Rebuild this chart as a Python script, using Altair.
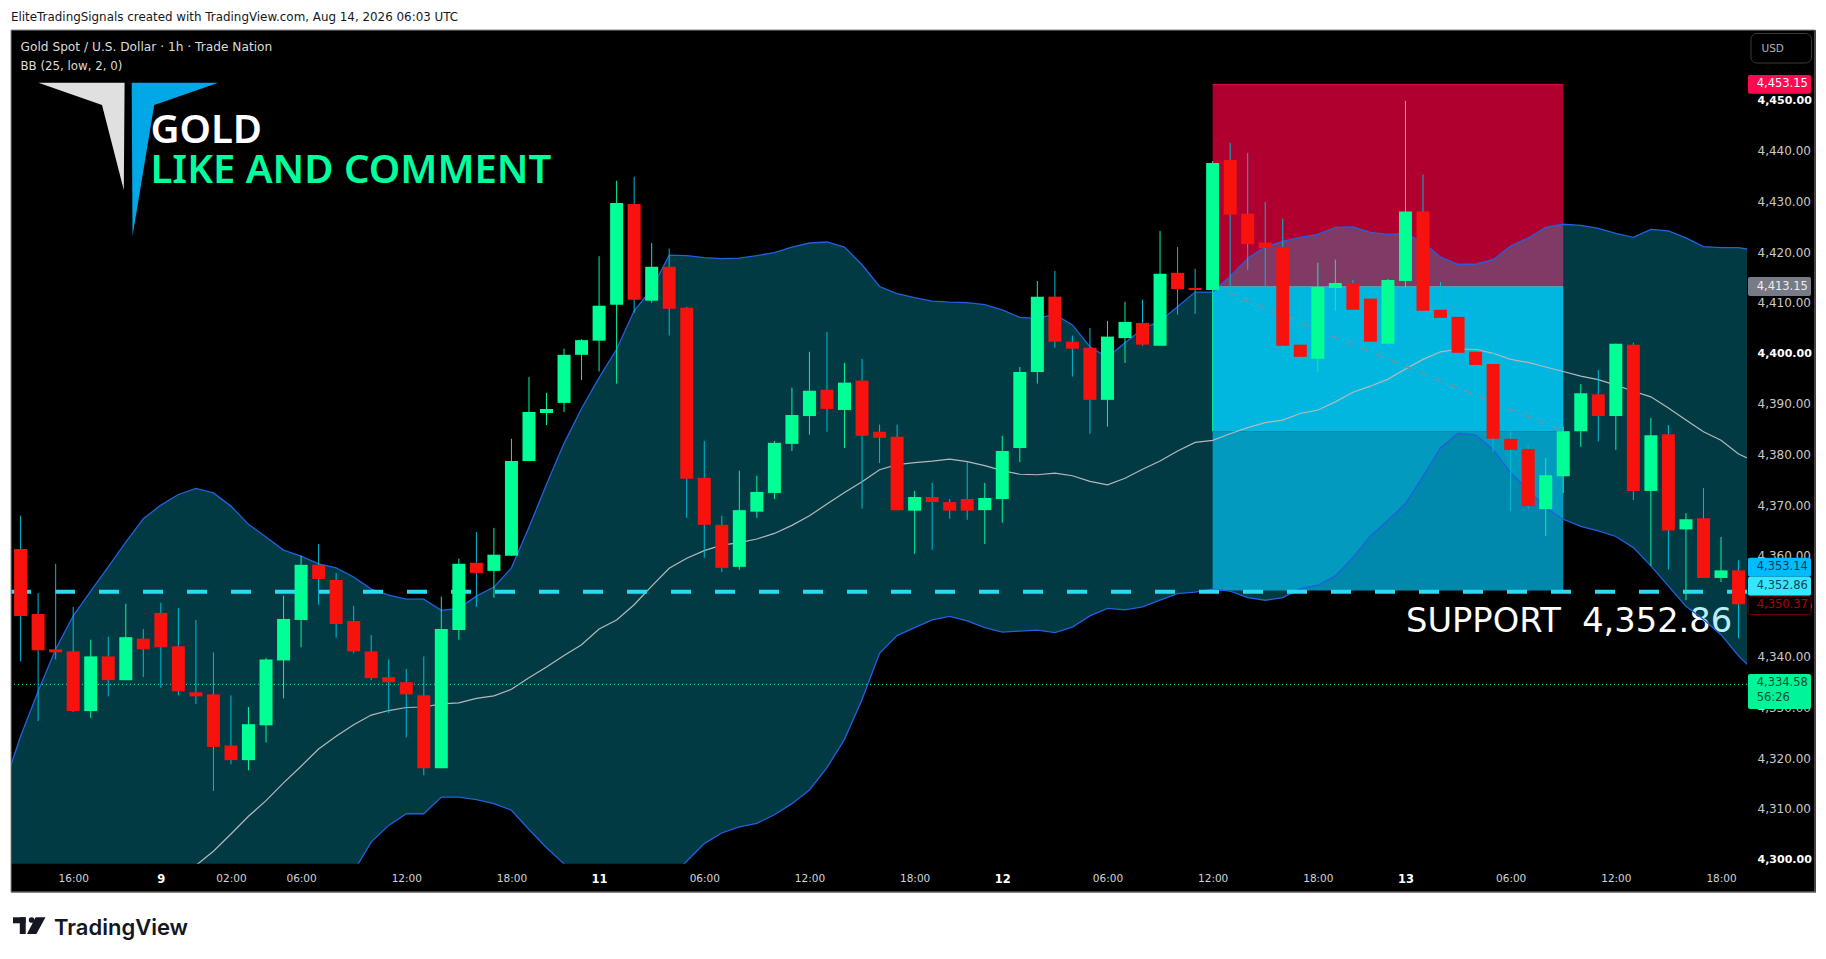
import pandas as pd
import altair as alt

# 1h candles
opens = [4361.3, 4348.5, 4341.5, 4341.1, 4329.3, 4340.1, 4335.4, 4343.6, 4348.7, 4342.1,
         4333.0, 4332.6, 4322.5, 4319.6, 4326.5, 4339.3, 4347.3, 4358.2, 4355.2, 4347.1,
         4341.1, 4336.0, 4335.0, 4332.4, 4318.0, 4345.3, 4358.6, 4357.0, 4360.0, 4378.7,
         4388.2, 4390.2, 4399.7, 4402.5, 4409.6, 4429.5, 4410.4, 4417.1, 4409.0, 4375.4,
         4366.1, 4357.8, 4368.7, 4372.4, 4382.1, 4387.6, 4392.8, 4388.8, 4394.6, 4384.5,
         4383.5, 4368.9, 4371.6, 4370.6, 4371.2, 4369.0, 4371.2, 4381.3, 4396.3, 4411.2,
         4402.3, 4401.1, 4390.8, 4403.0, 4406.0, 4401.5, 4415.9, 4412.9, 4412.5, 4438.2,
         4427.6, 4421.9, 4421.0, 4401.7, 4398.9, 4412.9, 4413.9, 4410.8, 4401.9, 4414.3,
         4428.0, 4408.6, 4407.2, 4400.3, 4397.9, 4383.1, 4381.1, 4369.2, 4375.7, 4384.6,
         4391.9, 4387.6, 4401.7, 4372.8, 4384.0, 4365.2, 4367.4, 4355.6, 4357.1]
closes = [4348.1, 4341.3, 4340.9, 4329.3, 4340.1, 4335.4, 4343.9, 4341.5, 4341.9, 4333.2,
          4332.2, 4322.2, 4319.6, 4326.7, 4339.5, 4347.5, 4358.2, 4355.4, 4346.5, 4341.1,
          4335.8, 4335.0, 4332.6, 4318.0, 4345.5, 4358.4, 4356.6, 4360.2, 4378.7, 4388.4,
          4389.0, 4399.7, 4402.6, 4409.4, 4429.7, 4410.6, 4417.1, 4408.8, 4375.2, 4366.1,
          4357.6, 4369.0, 4372.6, 4382.3, 4387.8, 4392.6, 4389.0, 4394.2, 4383.7, 4383.3,
          4369.0, 4371.6, 4370.6, 4368.9, 4368.9, 4371.4, 4380.7, 4396.3, 4411.2, 4402.3,
          4400.9, 4390.8, 4403.3, 4406.2, 4401.7, 4415.7, 4412.7, 4412.5, 4437.6, 4427.4,
          4421.6, 4420.8, 4401.5, 4399.3, 4413.1, 4413.9, 4408.6, 4402.3, 4414.5, 4428.0,
          4408.4, 4407.0, 4400.1, 4397.7, 4383.1, 4380.9, 4369.8, 4375.9, 4384.6, 4392.1,
          4387.6, 4401.9, 4372.8, 4383.8, 4365.0, 4367.2, 4355.6, 4357.1, 4350.4]
highs = [4367.9, 4352.6, 4358.4, 4349.9, 4343.4, 4344.0, 4350.5, 4345.5, 4350.7, 4349.7,
         4347.3, 4340.9, 4332.4, 4330.1, 4339.8, 4352.1, 4360.0, 4362.3, 4356.6, 4350.1,
         4344.3, 4339.5, 4337.6, 4340.1, 4351.9, 4359.4, 4364.7, 4365.5, 4383.1, 4395.3,
         4392.2, 4400.9, 4402.8, 4419.2, 4434.1, 4434.9, 4421.8, 4420.7, 4409.2, 4382.7,
         4367.9, 4376.8, 4375.8, 4382.7, 4393.2, 4400.3, 4404.2, 4398.1, 4398.9, 4385.9,
         4385.9, 4372.8, 4374.4, 4371.2, 4378.5, 4374.4, 4383.7, 4397.3, 4414.3, 4416.3,
         4403.5, 4405.0, 4406.4, 4410.2, 4410.6, 4424.2, 4421.0, 4416.7, 4438.0, 4441.6,
         4439.6, 4429.9, 4426.6, 4411.7, 4417.9, 4418.5, 4414.5, 4410.8, 4414.7, 4449.9,
         4435.3, 4414.1, 4411.7, 4400.3, 4407.0, 4384.6, 4381.9, 4379.3, 4385.5, 4393.9,
         4396.7, 4401.9, 4402.1, 4387.2, 4385.8, 4368.4, 4373.4, 4363.7, 4359.1]
lows = [4339.1, 4327.3, 4339.5, 4329.1, 4327.9, 4332.2, 4335.4, 4336.0, 4333.9, 4332.4,
        4330.7, 4313.5, 4318.8, 4317.6, 4323.1, 4331.8, 4341.9, 4350.3, 4343.8, 4340.7,
        4335.4, 4328.9, 4324.1, 4316.6, 4318.0, 4343.4, 4349.9, 4351.7, 4360.0, 4378.7,
        4385.8, 4388.4, 4394.7, 4396.4, 4394.0, 4408.0, 4410.0, 4403.5, 4367.5, 4359.6,
        4356.8, 4357.2, 4367.5, 4371.2, 4380.7, 4383.9, 4384.5, 4381.3, 4369.3, 4378.3,
        4369.0, 4360.4, 4361.2, 4367.3, 4367.1, 4362.3, 4366.5, 4378.5, 4394.0, 4401.1,
        4395.4, 4384.1, 4385.5, 4398.1, 4401.5, 4401.5, 4407.6, 4407.8, 4384.6, 4409.0,
        4416.5, 4413.0, 4396.9, 4397.0, 4396.3, 4408.4, 4408.4, 4402.3, 4401.7, 4413.0,
        4408.4, 4407.0, 4400.1, 4397.7, 4380.5, 4368.8, 4369.2, 4363.9, 4372.4, 4381.5,
        4382.6, 4380.9, 4371.0, 4358.0, 4357.3, 4351.2, 4355.6, 4354.8, 4343.7]

# Bollinger bands, bar -1 to bar 99 so they run off both edges of the plot
bb_upper = [4314.0,
            4324.3, 4333.2, 4341.5, 4348.1, 4353.0, 4357.8, 4362.7, 4367.3, 4370.0, 4372.1,
            4373.3, 4372.4, 4369.8, 4366.2, 4363.7, 4361.1, 4359.9, 4358.4, 4357.6, 4355.8,
            4353.4, 4352.2, 4351.4, 4351.4, 4349.2, 4349.6, 4352.0, 4353.8, 4357.6, 4365.6,
            4374.1, 4382.2, 4389.1, 4395.2, 4400.8, 4408.4, 4412.7, 4419.4, 4419.3, 4418.9,
            4418.7, 4418.8, 4419.3, 4419.9, 4421.0, 4421.8, 4422.0, 4421.0, 4417.5, 4413.2,
            4411.8, 4411.0, 4410.3, 4410.1, 4410.0, 4409.6, 4408.6, 4407.1, 4406.9, 4407.7,
            4405.6, 4401.3, 4399.2, 4402.1, 4404.8, 4406.4, 4409.2, 4412.1, 4412.1, 4415.2,
            4418.8, 4421.0, 4422.1, 4422.9, 4423.5, 4424.9, 4425.0, 4423.9, 4423.5, 4423.7,
            4421.9, 4419.0, 4417.6, 4417.6, 4418.5, 4421.2, 4422.8, 4424.9, 4425.5, 4425.3,
            4424.7, 4423.7, 4422.9, 4424.5, 4424.2, 4422.8, 4421.1, 4420.9, 4420.9, 4420.3]
# the first bars are under the bottom of the plot, those are only rough
bb_lower = [4290.0,
            4290.0, 4290.0, 4290.0, 4290.0, 4290.0, 4290.0, 4290.0, 4290.0, 4290.0, 4290.0,
            4290.0, 4290.0, 4290.0, 4290.0, 4290.0, 4290.0, 4290.0, 4290.0, 4294.0, 4297.6,
            4303.4, 4306.7, 4309.0, 4309.0, 4312.3, 4312.3, 4311.8, 4311.0, 4309.7, 4305.9,
            4302.3, 4299.1, 4295.6, 4293.0, 4291.0, 4291.0, 4293.0, 4296.3, 4299.6, 4303.1,
            4305.2, 4306.4, 4307.1, 4308.8, 4311.0, 4313.7, 4318.1, 4323.7, 4331.6, 4340.7,
            4344.2, 4345.8, 4347.3, 4348.0, 4347.1, 4345.8, 4344.9, 4345.1, 4345.3, 4344.8,
            4345.9, 4348.1, 4349.6, 4349.3, 4349.9, 4351.2, 4352.5, 4352.8, 4353.4, 4353.0,
            4351.7, 4351.2, 4351.7, 4353.5, 4354.2, 4356.0, 4359.6, 4363.9, 4367.0, 4370.3,
            4375.7, 4381.3, 4384.2, 4383.9, 4381.0, 4376.4, 4373.1, 4369.5, 4367.2, 4365.8,
            4364.9, 4363.8, 4361.6, 4358.0, 4354.0, 4350.0, 4347.4, 4344.4, 4340.2, 4336.8]
bb_mid = [None,
          None, None, None, None, None, None, None, None, None, None,
          4298.8, 4301.6, 4305.0, 4308.5, 4311.6, 4315.1, 4318.4, 4321.8, 4324.3, 4326.6,
          4328.5, 4329.4, 4330.0, 4330.1, 4330.7, 4330.9, 4331.8, 4332.3, 4333.6, 4335.9,
          4338.0, 4340.3, 4342.4, 4345.5, 4347.3, 4350.3, 4354.0, 4357.5, 4359.5, 4361.0,
          4362.1, 4362.6, 4363.3, 4364.4, 4366.0, 4367.9, 4370.2, 4372.5, 4374.6, 4377.0,
          4378.0, 4378.4, 4378.7, 4379.1, 4378.6, 4377.8, 4376.8, 4376.1, 4376.0, 4376.3,
          4375.8, 4374.7, 4374.0, 4375.3, 4377.1, 4378.7, 4380.7, 4382.4, 4382.8, 4384.1,
          4385.3, 4386.3, 4386.8, 4388.1, 4388.8, 4390.4, 4392.3, 4393.5, 4394.9, 4396.9,
          4398.8, 4400.3, 4400.8, 4400.8, 4400.0, 4398.8, 4398.2, 4397.3, 4396.4, 4395.5,
          4394.8, 4393.7, 4392.5, 4391.4, 4389.2, 4386.8, 4384.5, 4382.8, 4380.1, 4378.5]

# x axis
tick_bars = [3, 8, 12, 16, 22, 28, 33, 39, 45, 51, 56, 62, 68, 74, 79, 85, 91, 97]
tick_labels = ["16:00", "9", "02:00", "06:00", "12:00", "18:00", "11", "06:00", "12:00",
               "18:00", "12", "06:00", "12:00", "18:00", "13", "06:00", "12:00", "18:00"]
day_bars = [8, 33, 56, 79]
price_ticks = list(range(4300, 4460, 10))

# position tool + horizontal levels
box_from, box_to = 68, 88
stop_price, entry_price, box_split, target_price = 4453.15, 4413.15, 4384.6, 4353.14
support_price = 4352.86
last_price = 4334.58

# page pixels of the plot area
LEFT, RIGHT, TOP, BOTTOM = 11.5, 1747.0, 31.0, 862.7
FRAME_RIGHT, FRAME_BOTTOM = 1815.0, 892.0
SVG_BOTTOM = 951.0
W = RIGHT - LEFT
H = BOTTOM - TOP


def bar_of(px):
    return (px - 20.6) / 17.53


def price_of(py):
    return 4450 - (py - 99.3) / 5.06


x_enc = alt.X("i:Q", title=None,
              scale=alt.Scale(domain=[bar_of(LEFT), bar_of(RIGHT)], zero=False, nice=False, padding=0),
              axis=alt.Axis(values=tick_bars, grid=False, domain=False, ticks=False,
                            labelExpr="{" + ",".join(f"'{b}':'{t}'" for b, t in zip(tick_bars, tick_labels)) + "}[datum.value]",
                            labelColor={"condition": {"test": f"indexof({day_bars}, datum.value) >= 0", "value": "#ffffff"}, "value": "#d1d4dc"},
                            labelFontWeight={"condition": {"test": f"indexof({day_bars}, datum.value) >= 0", "value": "bold"}, "value": "normal"},
                            labelFontSize={"condition": {"test": f"indexof({day_bars}, datum.value) >= 0", "value": 11.5}, "value": 10.5},
                            labelFont="DejaVu Sans", labelPadding=10,
                            labelOverlap=False, labelFlush=False, labelBound=False))
y_scale = alt.Scale(domain=[price_of(BOTTOM), price_of(TOP)], zero=False, nice=False, padding=0)
y_axis = alt.Axis(orient="right", values=price_ticks, format=",.2f", grid=False, domain=False, ticks=False,
                  labelColor={"condition": {"test": "datum.value % 50 == 0", "value": "#ffffff"}, "value": "#c8c8c8"},
                  labelFontWeight={"condition": {"test": "datum.value % 50 == 0", "value": "bold"}, "value": "normal"},
                  labelFontSize={"condition": {"test": "datum.value % 50 == 0", "value": 11}, "value": 12},
                  labelFont="DejaVu Sans", labelPadding=10,
                  labelOverlap=False, labelFlush=False, labelBound=False)


def y_enc(field):
    return alt.Y(field, type="quantitative", title=None, scale=y_scale, axis=y_axis)


one_row = alt.Data(values=[{"a": 1}])


def px_rect(x0, y0, x1, y1, fill=None, stroke=None, radius=0):
    opts = {"cornerRadius": radius}
    if fill:
        opts["fill"] = fill
    else:
        opts["fillOpacity"] = 0
    if stroke:
        opts["stroke"] = stroke
        opts["strokeWidth"] = 1
    return alt.Chart(one_row).mark_rect(**opts).encode(
        x=alt.value(x0 - LEFT), x2=alt.value(x1 - LEFT),
        y=alt.value(y0 - TOP), y2=alt.value(y1 - TOP))


def px_text(x, y, txt, size, color, font="DejaVu Sans", weight="normal", align="left"):
    return alt.Chart(one_row).mark_text(align=align, baseline="middle", font=font, fontSize=size,
                                        fontWeight=weight, color=color).encode(
        x=alt.value(x - LEFT), y=alt.value(y - TOP), text=alt.value(txt))


def polygon(xs, tops, bottoms, color):
    d = pd.DataFrame({"i": [bar_of(v) for v in xs],
                      "top": [price_of(v) for v in tops],
                      "bot": [price_of(v) for v in bottoms]})
    return alt.Chart(d).mark_area(color=color, opacity=1, clip=False).encode(
        x=x_enc, y=y_enc("top"), y2=alt.Y2("bot"))


candles = pd.DataFrame({"i": range(len(opens)), "o": opens, "h": highs, "l": lows, "c": closes})
candles["top"] = candles[["o", "c"]].max(axis=1)
candles["bot"] = candles[["o", "c"]].min(axis=1)
bands = pd.DataFrame({"i": range(-1, 100), "upper": bb_upper, "lower": bb_lower, "mid": bb_mid})
boxes = pd.DataFrame({"i": [box_from] * 3, "i2": [box_to] * 3,
                      "top": [stop_price, entry_price, box_split],
                      "bot": [entry_price, box_split, target_price],
                      "kind": ["stop", "t1", "t2"]})
diag = pd.DataFrame({"i": [box_from, box_to], "p": [entry_price, box_split]})

box_layer = alt.Chart(boxes).mark_rect().encode(
    x=x_enc, x2=alt.X2("i2"), y=y_enc("top"), y2=alt.Y2("bot"),
    color=alt.Color("kind:N", legend=None,
                    scale=alt.Scale(domain=["stop", "t1", "t2"], range=["#b0002f", "#00afda", "#0088ad"])))
stop_edge = alt.Chart(boxes.head(1)).mark_rule(color="#e8084c", strokeWidth=1).encode(
    x=x_enc, x2=alt.X2("i2"), y=y_enc("top"))
entry_edge = alt.Chart(boxes.head(1)).mark_rule(color="#6f8b9c", strokeWidth=1.5).encode(
    x=x_enc, x2=alt.X2("i2"), y=y_enc("bot"))

band_fill = alt.Chart(bands).mark_area(color="rgb(7,203,238)", opacity=0.285, clip=True).encode(
    x=x_enc, y=y_enc("upper"), y2=alt.Y2("lower"))
upper_line = alt.Chart(bands).mark_line(color="#2160e0", strokeWidth=1.3, clip=True).encode(x=x_enc, y=y_enc("upper"))
lower_line = alt.Chart(bands).mark_line(color="#2160e0", strokeWidth=1.3, clip=True).encode(x=x_enc, y=y_enc("lower"))
mid_line = alt.Chart(bands).mark_line(color="#b4b8bc", strokeWidth=1.2, clip=True).encode(x=x_enc, y=y_enc("mid"))
diag_line = alt.Chart(diag).mark_line(color="#78909c", strokeWidth=1.5, strokeDash=[8, 8]).encode(x=x_enc, y=y_enc("p"))

support_line = alt.Chart(pd.DataFrame({"p": [support_price]})).mark_rule(
    color="#2adcf2", strokeWidth=4, strokeDash=[20, 24]).encode(y=y_enc("p"))
last_line = alt.Chart(pd.DataFrame({"p": [last_price]})).mark_rule(
    color="#2cf0b0", strokeWidth=1, strokeDash=[1, 3]).encode(y=y_enc("p"))

up = "datum.c >= datum.o"
wicks = alt.Chart(candles).mark_rule(strokeWidth=1).encode(
    x=x_enc, y=y_enc("l"), y2=alt.Y2("h"),
    color=alt.condition(up, alt.value("#00f59b"), alt.value("#00bcd4")))
bodies = alt.Chart(candles).mark_bar(size=13).encode(
    x=x_enc, y=y_enc("top"), y2=alt.Y2("bot"),
    color=alt.condition(up, alt.value("#00ff95"), alt.value("#f7120d")))

# text sits under the band fill in the original, that is why 86 looks pale
support_text = px_text(1406, 621, "SUPPORT\u00a0\u00a04,352.86", 33.7, "#ffffff")

chrome = [
    px_rect(0, 0, FRAME_RIGHT + 12, TOP - 2, fill="#ffffff"),
    px_rect(0, 0, LEFT - 0.5, 960, fill="#ffffff"),
    px_rect(0, FRAME_BOTTOM - 0.5, FRAME_RIGHT + 12, SVG_BOTTOM, fill="#ffffff"),
    px_rect(LEFT - 0.5, TOP - 2, FRAME_RIGHT, FRAME_BOTTOM - 1, stroke="#8a8a8a"),
    px_text(11, 16, "EliteTradingSignals created with TradingView.com, Aug 14, 2026 06:03 UTC", 11.9, "#131722"),
    px_text(20.5, 46, "Gold Spot / U.S. Dollar \u00b7 1h \u00b7 Trade Nation", 12.2, "#dcdcdc"),
    px_text(20.5, 65, "BB (25, low, 2, 0)", 11.8, "#dcdcdc"),
    polygon([38.4, 102, 123.8, 124.6], [81.7] * 4, [81.7, 104, 189, 81.7], "#e0e0e0"),
    polygon([131.7, 132.5, 154.2, 218.3], [81.7] * 4, [81.7, 235, 104, 81.7], "#00a8e8"),
    px_text(150.5, 130, "GOLD", 40, "#ffffff", font="Noto Sans", weight=600),
    px_text(150.5, 170, "LIKE AND COMMENT", 40, "#00ff9d", font="Noto Sans", weight=600),
    px_rect(1751, 32.5, 1811.5, 62, stroke="#3a3a3a", radius=6),
    px_text(1761.5, 48, "USD", 10.5, "#b0b0b0"),
    # tradingview mark
    px_rect(13, 916.3, 25.7, 922.3, fill="#131722"),
    px_rect(19.8, 916.3, 25.7, 933, fill="#131722"),
    alt.Chart(one_row).mark_circle(color="#131722", opacity=1, size=32).encode(
        x=alt.value(31.6 - LEFT), y=alt.value(919 - TOP)),
    polygon([27, 35.6, 36.4, 45.5], [933, 916.3, 916.3, 916.3], [933, 933, 933, 916.3], "#131722"),
    px_text(54, 927, "TradingView", 22, "#131722", font="Inter", weight=600),
]

# price tags on the right, these get pushed apart so they are not exactly on their price
tags = [
    ("4,453.15", 74, 92.7, "#ff0a50", "#ffffff", None),
    ("4,413.15", 276, 295, "#787b86", "#ececec", None),
    ("4,353.14", 556.7, 575.7, "#00bcff", "#0b3c4c", None),
    ("4,352.86", 575.7, 594.7, "#36e6ff", "#0b4a55", None),
    ("4,350.37", 595.2, 613.7, "#000000", "#b00000", "#7f0000"),
    ("4,334.58", 673, 708, "#00f598", "#0b4f33", None),
]
tag_layers = []
for label, t, b, fill, ink, edge in tags:
    tag_layers.append(px_rect(1748, t, 1811, b, fill=fill, stroke=edge, radius=2))
    mid_y = (t + b) / 2 if b - t < 25 else t + 9
    tag_layers.append(px_text(1756.7, mid_y, label, 11.5, ink))
tag_layers.append(px_text(1756.7, 697, "56:26", 11.5, "#0b4f33"))

chart = alt.layer(
    box_layer, stop_edge, entry_edge, support_text, band_fill, upper_line, lower_line, mid_line, diag_line,
    last_line, support_line, wicks, bodies, *chrome, *tag_layers
).properties(
    width=W, height=H,
    autosize=alt.AutoSizeParams(type="none"),
    # one pixel lower than the measured top lines the data up with the reference
    padding={"left": LEFT - 8, "top": TOP - 8 + 1, "right": FRAME_RIGHT + 1 - RIGHT, "bottom": SVG_BOTTOM - BOTTOM - 1},
).configure(background="#000000").configure_view(strokeWidth=0)

chart.save("out.html", embed_options={"renderer": "svg", "actions": False})
